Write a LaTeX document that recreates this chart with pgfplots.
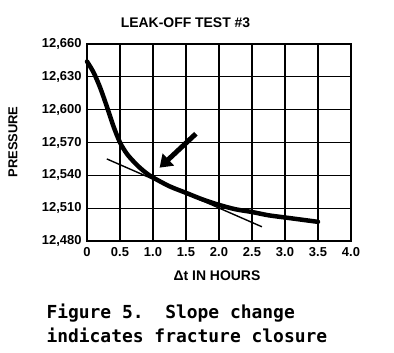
\documentclass[border=0pt]{standalone}
\usepackage{pgfplots}
\pgfplotsset{compat=1.18}
\usepackage{fontspec}
\setmainfont{Liberation Sans}
\newfontfamily\capfont{DejaVu Sans Mono}
\usetikzlibrary{arrows.meta}
\begin{document}
\begin{tikzpicture}[x=1bp,y=1bp]
\path[use as bounding box] (-87,-112) rectangle (307,241);
\begin{axis}[
  at={(0,0)}, anchor=origin,
  scale only axis, width=264bp, height=197bp,
  xmin=0, xmax=4, ymin=12480, ymax=12660,
  scaled y ticks=false, scaled x ticks=false,
  xtick={0,0.5,1,1.5,2,2.5,3,3.5,4},
  xticklabels={0,0.5,1.0,1.5,2.0,2.5,3.0,3.5,4.0},
  ytick={12480,12510,12540,12570,12600,12630,12660},
  yticklabels={{12,480},{12,510},{12,540},{12,570},{12,600},{12,630},{12,660}},
  grid=major,
  major grid style={black, line width=1.3pt},
  axis line style={black, line width=2pt},
  major tick length=0pt,
  tick label style={font=\bfseries\fontsize{13}{15}\selectfont},
  xticklabel style={yshift=-3bp},
  yticklabel style={xshift=-2bp},
  clip=false,
]
\addplot[black, line width=4.5pt, smooth, tension=0.5, line cap=round] coordinates {
 (0,12644) (0.1,12634) (0.2,12620) (0.3,12603) (0.4,12585) (0.5,12570)
 (0.6,12560) (0.7,12553) (0.8,12547) (0.9,12542) (1.0,12538) (1.25,12530) (1.5,12524)
 (1.75,12518) (2.0,12513) (2.25,12509) (2.5,12506.5) (2.75,12503.5) (3.0,12501.5)
 (3.25,12499.5) (3.5,12497.5)
};
\addplot[black, line width=1.4pt] coordinates {(0.3,12555) (2.65,12493)};
\draw[black, line width=5pt, -{Triangle[length=12bp,width=16bp]}] (axis cs:1.65,12578) -- (axis cs:1.1,12547);
\end{axis}
\node[font=\bfseries\fontsize{14}{16}\selectfont] at (98.5,218) {LEAK-OFF TEST \#3};
\node[font=\bfseries\fontsize{13}{15}\selectfont, rotate=90] at (-74,99) {PRESSURE};
\node[font=\bfseries\fontsize{14}{16}\selectfont] at (130,-35) {Δt IN HOURS};
\node[font=\capfont\bfseries\fontsize{18}{21}\selectfont, anchor=west, align=left] at (-44,-72) {Figure 5.\ \ Slope change};
\node[font=\capfont\bfseries\fontsize{18}{21}\selectfont, anchor=west, align=left] at (-44,-94) {indicates fracture closure};
\end{tikzpicture}
\end{document}
